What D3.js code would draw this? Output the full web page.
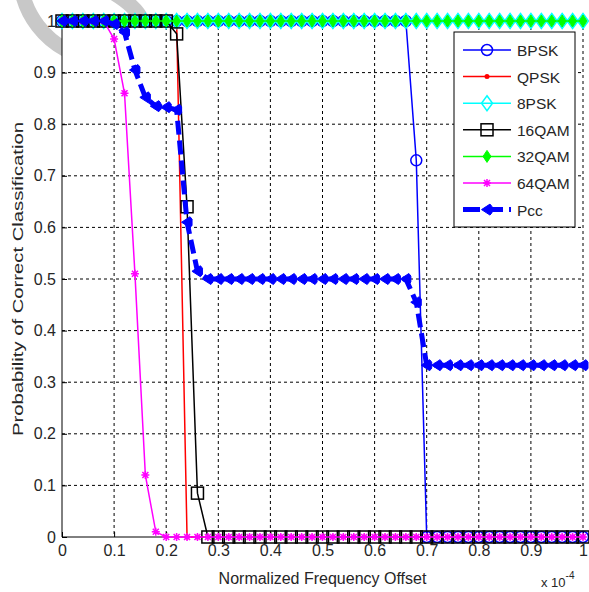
<!DOCTYPE html>
<html>
<head>
<meta charset="utf-8">
<script src="https://cdn.jsdelivr.net/npm/d3@7"></script>
<style>
body { margin: 0; background: #fff; }
text { font-family: "Liberation Sans", Arial, sans-serif; fill: #262626; }
</style>
</head>
<body>
<script>

// normalized frequency offset (x 10^-4)
var offsets = [0,0.02,0.04,0.06,0.08,0.1,0.12,0.14,0.16,0.18,
               0.2,0.22,0.24,0.26,0.28,0.3,0.32,0.34,0.36,0.38,
               0.4,0.42,0.44,0.46,0.48,0.5,0.52,0.54,0.56,0.58,
               0.6,0.62,0.64,0.66,0.68,0.7,0.72,0.74,0.76,0.78,
               0.8,0.82,0.84,0.86,0.88,0.9,0.92,0.94,0.96,0.98,
               1];

var bpsk = [1,1,1,1,1,1,1,1,1,1,
            1,1,1,1,1,1,1,1,1,1,
            1,1,1,1,1,1,1,1,1,1,
            1,1,1,1,0.73,0,0,0,0,0,
            0,0,0,0,0,0,0,0,0,0,
            0];

var qpsk = [1,1,1,1,1,1,1,1,1,1,
            1,1,0,0,0,0,0,0,0,0,
            0,0,0,0,0,0,0,0,0,0,
            0,0,0,0,0,0,0,0,0,0,
            0,0,0,0,0,0,0,0,0,0,
            0];

var psk8 = [1,1,1,1,1,1,1,1,1,1,
            1,1,1,1,1,1,1,1,1,1,
            1,1,1,1,1,1,1,1,1,1,
            1,1,1,1,1,1,1,1,1,1,
            1,1,1,1,1,1,1,1,1,1,
            1];

var qam16 = [1,1,1,1,1,1,1,1,1,1,
             1,0.975,0.64,0.085,0,0,0,0,0,0,
             0,0,0,0,0,0,0,0,0,0,
             0,0,0,0,0,0,0,0,0,0,
             0,0,0,0,0,0,0,0,0,0,
             0];

var qam32 = [1,1,1,1,1,1,1,1,1,1,
             1,1,1,1,1,1,1,1,1,1,
             1,1,1,1,1,1,1,1,1,1,
             1,1,1,1,1,1,1,1,1,1,
             1,1,1,1,1,1,1,1,1,1,
             1];

var qam64 = [1,1,1,1,1,0.965,0.86,0.51,0.12,0.01,
             0,0,0,0,0,0,0,0,0,0,
             0,0,0,0,0,0,0,0,0,0,
             0,0,0,0,0,0,0,0,0,0,
             0,0,0,0,0,0,0,0,0,0,
             0];

var pcc = [1,1,1,1,1,0.994,0.978,0.905,0.852,0.835,
           0.833,0.828,0.61,0.515,0.5,0.5,0.5,0.5,0.5,0.5,
           0.5,0.5,0.5,0.5,0.5,0.5,0.5,0.5,0.5,0.5,
           0.5,0.5,0.5,0.5,0.455,0.333,0.333,0.333,0.333,0.333,
           0.333,0.333,0.333,0.333,0.333,0.333,0.333,0.333,0.333,0.333,
           0.333];

var xTicks = [0,0.1,0.2,0.3,0.4,0.5,0.6,0.7,0.8,0.9,1];
var yTicks = [0,0.1,0.2,0.3,0.4,0.5,0.6,0.7,0.8,0.9,1];

var series = [
    { name: 'BPSK',  values: bpsk,  color: '#0000ff', marker: 'circle' },
    { name: 'QPSK',  values: qpsk,  color: '#ff0000', marker: 'dot' },
    { name: '8PSK',  values: psk8,  color: '#00ffff', marker: 'diamondOpen' },
    { name: '16QAM', values: qam16, color: '#000000', marker: 'square' },
    { name: '32QAM', values: qam32, color: '#00ff00', marker: 'diamond' },
    { name: '64QAM', values: qam64, color: '#ff00ff', marker: 'star' },
    { name: 'Pcc',   values: pcc,   color: '#0000ff', marker: 'arrow', thick: true }
];

var width = 589, height = 592;
var plotLeft = 62, plotRight = 583, plotTop = 21, plotBottom = 537;

var svg = d3.select('body').append('svg')
    .attr('width', width)
    .attr('height', height);

var x = d3.scaleLinear().domain([0, 1]).range([plotLeft, plotRight]);
var y = d3.scaleLinear().domain([0, 1]).range([plotBottom, plotTop]);

// grey watermark ring, partly hidden by the axes
svg.append('path')
    .attr('d', 'M 22,-8 C 33,42 90,78 135,45 C 152,33 146,12 112,-8')
    .attr('fill', 'none')
    .attr('stroke', '#c8c8c8')
    .attr('stroke-width', 15);

svg.append('rect')
    .attr('x', plotLeft).attr('y', plotTop)
    .attr('width', plotRight - plotLeft).attr('height', plotBottom - plotTop)
    .attr('fill', '#fff');

// dashed grid
svg.append('g').selectAll('line')
    .data(xTicks.slice(1))
    .enter().append('line')
        .attr('x1', function(d) { return x(d) }).attr('x2', function(d) { return x(d) })
        .attr('y1', plotTop).attr('y2', plotBottom)
        .attr('stroke', '#000').attr('stroke-width', 1)
        .attr('stroke-dasharray', '3,3');

svg.append('g').selectAll('line')
    .data(yTicks.slice(1))
    .enter().append('line')
        .attr('x1', plotLeft).attr('x2', plotRight)
        .attr('y1', function(d) { return y(d) }).attr('y2', function(d) { return y(d) })
        .attr('stroke', '#000').attr('stroke-width', 1)
        .attr('stroke-dasharray', '3,3');

// axes
var fmt = function(d) { return d === 0 || d === 1 ? String(d) : d3.format('.1f')(d) };
var xAxis = d3.axisBottom(x).tickValues(xTicks).tickSize(-5).tickPadding(8).tickFormat(fmt);
var yAxis = d3.axisLeft(y).tickValues(yTicks).tickSize(-5).tickPadding(6).tickFormat(fmt);

var gx = svg.append('g').attr('transform', 'translate(0,' + plotBottom + ')').call(xAxis);
var gy = svg.append('g').attr('transform', 'translate(' + plotLeft + ',0)').call(yAxis);

[gx, gy].forEach(function(g) {
    g.select('.domain').attr('stroke', '#000');
    g.selectAll('.tick line').attr('stroke', '#000');
    g.selectAll('.tick text').style('font-size', '16px').attr('fill', '#262626');
});
gx.select('.domain').attr('d', 'M' + plotLeft + ',0H' + plotRight);
gy.select('.domain').attr('d', 'M0,' + plotBottom + 'V' + plotTop);

// markers
function drawMarker(g, type, color) {
    if (type === 'circle') {
        g.append('circle').attr('r', 5.5).attr('fill', 'none')
            .attr('stroke', color).attr('stroke-width', 1.5);
    } else if (type === 'dot') {
        g.append('circle').attr('r', 2.5).attr('fill', color);
    } else if (type === 'diamondOpen') {
        g.append('path').attr('d', 'M0,-7.5L5.5,0L0,7.5L-5.5,0Z').attr('fill', 'none')
            .attr('stroke', color).attr('stroke-width', 1.5);
    } else if (type === 'square') {
        g.append('rect').attr('x', -6).attr('y', -6).attr('width', 12).attr('height', 12)
            .attr('fill', 'none').attr('stroke', color).attr('stroke-width', 1.5);
    } else if (type === 'diamond') {
        g.append('path').attr('d', 'M0,-6L4,0L0,6L-4,0Z').attr('fill', color)
            .attr('stroke', color).attr('stroke-width', 1);
    } else if (type === 'star') {
        g.append('path').attr('d', 'M-4,0H4M0,-4V4M-3,-3L3,3M-3,3L3,-3')
            .attr('stroke', color).attr('stroke-width', 1.5);
    } else if (type === 'arrow') {
        g.append('path').attr('d', 'M-5.5,0L3,-5.5L5,-3L5,3L3,5.5Z').attr('fill', color)
            .attr('stroke', color).attr('stroke-width', 1);
    }
}

var line = d3.line()
    .x(function(d) { return x(d[0]) })
    .y(function(d) { return y(d[1]) });

series.forEach(function(s) {
    var pts = offsets.map(function(o, i) { return [o, s.values[i]] });
    var g = svg.append('g');

    g.append('path')
        .datum(pts)
        .attr('d', line)
        .attr('fill', 'none')
        .attr('stroke', s.color)
        .attr('stroke-width', s.thick ? 5 : 1.5)
        .attr('stroke-dasharray', s.thick ? '14,6' : null);

    g.selectAll('g.m')
        .data(pts)
        .enter().append('g')
            .attr('class', 'm')
            .attr('transform', function(d) { return 'translate(' + x(d[0]) + ',' + y(d[1]) + ')' })
            .each(function() { drawMarker(d3.select(this), s.marker, s.color) });
});

// legend
var legend = svg.append('g');
legend.append('rect')
    .attr('x', 454).attr('y', 32).attr('width', 121).attr('height', 195)
    .attr('fill', '#fff').attr('stroke', '#000').attr('stroke-width', 1);

var items = legend.selectAll('g.item')
    .data(series)
    .enter().append('g')
        .attr('class', 'item')
        .attr('transform', function(d, i) { return 'translate(0,' + (50 + i * 26.6) + ')' });

items.append('line')
    .attr('x1', 463).attr('x2', 511)
    .attr('stroke', function(d) { return d.color })
    .attr('stroke-width', function(d) { return d.thick ? 5 : 1.5 })
    .attr('stroke-dasharray', function(d) { return d.thick ? '17,6' : null });

items.append('g')
    .attr('transform', 'translate(487,0)')
    .each(function(d) { drawMarker(d3.select(this), d.marker, d.color) });

items.append('text')
    .attr('x', 517).attr('y', 6)
    .style('font-size', '15.5px')
    .text(function(d) { return d.name });

// axis titles
svg.append('text')
    .attr('x', (plotLeft + plotRight) / 2).attr('y', 584)
    .attr('text-anchor', 'middle')
    .style('font-size', '16px')
    .text('Normalized Frequency Offset');

svg.append('text')
    .attr('transform', 'translate(23,' + ((plotTop + plotBottom) / 2) + ') rotate(-90)')
    .attr('text-anchor', 'middle')
    .attr('textLength', 314)
    .attr('lengthAdjust', 'spacingAndGlyphs')
    .style('font-size', '15px')
    .text('Probability of Correct Classification');

var expLabel = svg.append('text')
    .attr('x', 541).attr('y', 587)
    .style('font-size', '13px');
expLabel.append('tspan').text('x 10');
expLabel.append('tspan').attr('dy', -8).style('font-size', '10px').text('-4');

</script>
</body>
</html>
